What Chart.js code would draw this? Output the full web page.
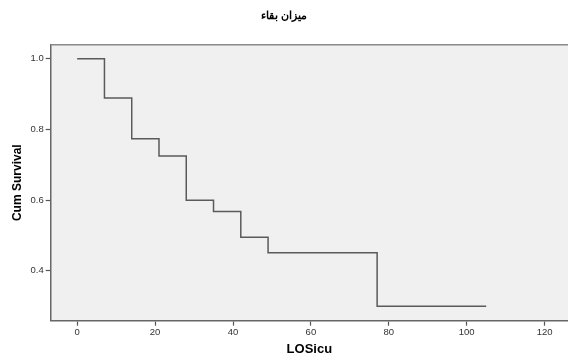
<!DOCTYPE html>
<html>
<head>
<meta charset="utf-8">
<script src="https://cdn.jsdelivr.net/npm/chart.js@4"></script>
<style>
html,body{margin:0;padding:0;background:#fff;}
#wrap{width:568px;height:356px;}
</style>
</head>
<body>
<div id="wrap"><canvas id="c" width="568" height="356"></canvas></div>
<script>
const chartTitle = "ميزان بقاء";
const xTitle = "LOSicu";
const yTitle = "Cum Survival";
const times = [0, 7, 14, 21, 28, 35, 42, 49, 77, 105];
const survival = [1.0, 0.889, 0.774, 0.725, 0.600, 0.568, 0.495, 0.451, 0.300, 0.300];
const xTicks = [0, 20, 40, 60, 80, 100, 120];
const yTicks = [0.4, 0.6, 0.8, 1.0];

const FONT = "'Liberation Sans', Arial, sans-serif";

const plotFrame = {
  id: 'plotFrame',
  beforeDraw(chart) {
    const {ctx, chartArea: a} = chart;
    ctx.save();
    ctx.fillStyle = '#f0f0f0';
    ctx.fillRect(a.left, a.top, a.right - a.left, a.bottom - a.top);
    ctx.restore();
  },
  afterDraw(chart) {
    const {ctx, chartArea: a} = chart;
    ctx.save();
    ctx.strokeStyle = '#8a8a8a';
    ctx.lineWidth = 1.5;
    ctx.beginPath();
    ctx.moveTo(a.left, a.top);
    ctx.lineTo(chart.width, a.top);
    ctx.stroke();
    ctx.restore();
  }
};

new Chart(document.getElementById('c'), {
  type: 'line',
  data: {
    datasets: [{
      data: times.map((t, i) => ({x: t, y: survival[i]})),
      stepped: 'before',
      borderColor: '#5a5a5a',
      borderWidth: 1.5,
      pointRadius: 0,
      fill: false
    }]
  },
  options: {
    responsive: false,
    animation: false,
    layout: {padding: {left: 0, right: 0, top: 0, bottom: 0}},
    plugins: {
      legend: {display: false},
      tooltip: {enabled: false},
      title: {
        display: true,
        text: chartTitle,
        color: '#000',
        font: {family: FONT, size: 11, weight: 'bold', lineHeight: 1.2},
        padding: {top: 9.5, bottom: 22}
      }
    },
    scales: {
      x: {
        type: 'linear',
        min: -6.8,
        max: 126,
        afterBuildTicks(s) { s.ticks = xTicks.map(v => ({value: v})); },
        afterFit(s) { s.height = 35.3; },
        grid: {drawOnChartArea: false, tickLength: 5, tickColor: '#555', tickWidth: 1.2},
        border: {display: true, color: '#666', width: 1.5},
        ticks: {color: '#333', font: {family: FONT, size: 9.5}, padding: 1, maxRotation: 0,
                callback: v => String(v)},
        title: {display: true, text: xTitle, color: '#000',
                font: {family: FONT, size: 13, weight: 'bold', lineHeight: 1.0},
                padding: {top: 0, bottom: 0}}
      },
      y: {
        type: 'linear',
        min: 0.259,
        max: 1.040,
        afterBuildTicks(s) { s.ticks = yTicks.map(v => ({value: v})); },
        afterFit(s) { s.width = 50.7; },
        grid: {drawOnChartArea: false, tickLength: 5, tickColor: '#555', tickWidth: 1.2},
        border: {display: true, color: '#666', width: 1.5},
        ticks: {color: '#333', font: {family: FONT, size: 9.5}, padding: 2,
                callback: v => Number(v).toFixed(1)},
        title: {display: true, text: yTitle, color: '#000',
                font: {family: FONT, size: 12, weight: 'bold', lineHeight: 1.0},
                padding: {top: 12, bottom: 0}}
      }
    }
  },
  plugins: [plotFrame]
});
</script>
</body>
</html>
